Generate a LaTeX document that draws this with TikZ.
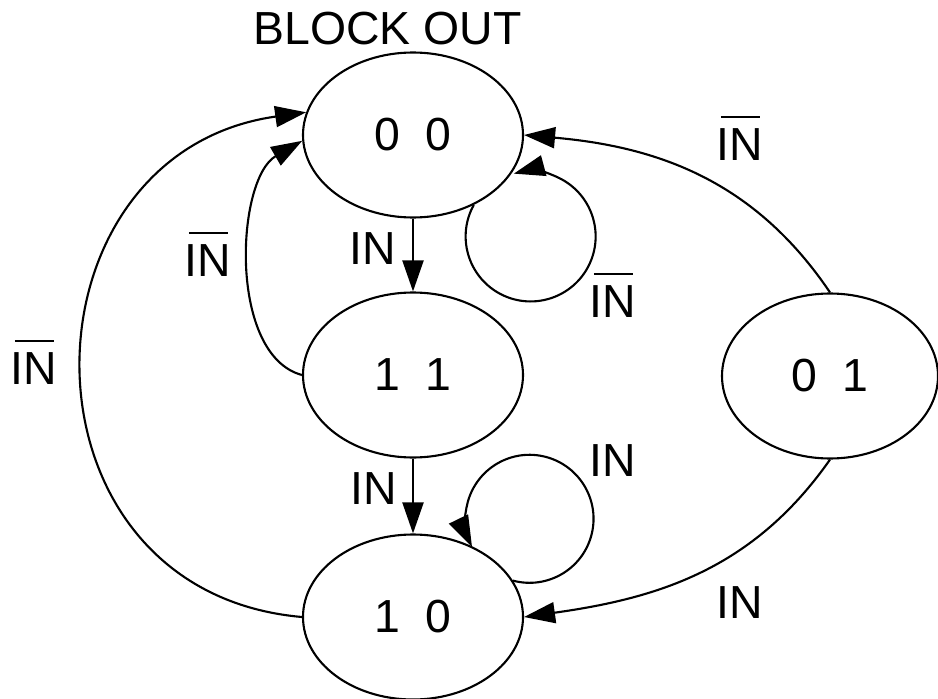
\documentclass[tikz,border=0pt]{standalone}
\usepackage{fontspec}
\setmainfont{Liberation Sans}
\usetikzlibrary{shapes.geometric,arrows.meta}
\newcommand{\barIN}{\leavevmode\smash{\rlap{\kern0.08cm\rule[0.86cm]{0.78cm}{0.045cm}}}IN}

\begin{document}
\begin{tikzpicture}[
  font=\fontsize{26.4pt}{30pt}\selectfont,
  state/.style={draw=black,ellipse,line width=1.2pt,minimum width=4.4cm,minimum height=3.3cm,inner sep=0pt},
  trans/.style={draw=black,line width=1.2pt,-{Triangle[length=0.62cm,width=0.42cm]}}
]
\useasboundingbox (0,0) rectangle (18.76,13.96);

%states
\node (block) at (7.75,13.39) {BLOCK OUT};
\node[state] (s00) at (8.26,11.26) {0~~0};
\node[state] (s11) at (8.26,6.46) {1~~1};
\node[state] (s10) at (8.26,1.62) {1~~0};
\node[state,minimum width=4.32cm] (s01) at (16.6,6.44) {0~~1};

%s00
\path[trans] (s00) -- (s11);
\path[trans] (s00.-49) arc[start angle=151,end angle=465,radius=1.3];
\node (l1) at (7.46,8.98) {IN};
\node (l2) at (12.26,7.92) {\barIN};

%s11
\path[trans] (s11) -- (s10);
\path[trans] (s11.west) to[out=165,in=210,looseness=0.84] (s00.183);
\node (l3) at (7.48,4.18) {IN};
\node (l4) at (4.16,8.74) {\barIN};

%s10
\path[trans] (s10.20) arc[start angle=255,end angle=566,radius=1.28];
\path[trans] (s10.west) to[out=175,in=188,looseness=1.5] (s00.168);
\node (l5) at (12.26,4.74) {IN};
\node (l6) at (0.68,6.58) {\barIN};

%s01
\path[trans] (s01.north) to[out=124,in=-5] (s00.east);
\path[trans] (s01.south) to[out=235,in=8] (s10.east);
\node (l7) at (14.8,11.06) {\barIN};
\node (l8) at (14.8,1.90) {IN};

\end{tikzpicture}
\end{document}
